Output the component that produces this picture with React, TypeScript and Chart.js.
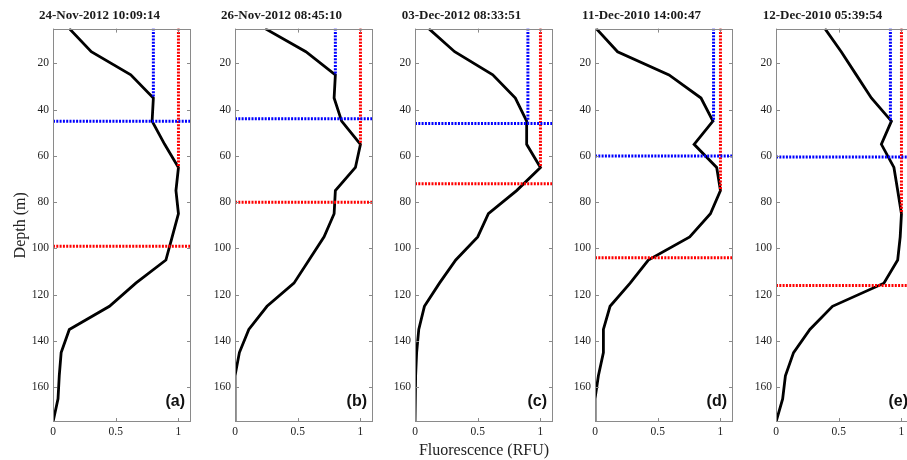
import React, { useEffect, useRef } from 'react';
import { Chart, registerables } from 'chart.js';

Chart.register(...registerables);

// ---- data ----
const depths = [5, 15, 25, 35, 45, 55, 65, 75, 85, 95, 105, 115, 125, 135, 145, 155, 165, 175];
const fluorA = [0.13, 0.305, 0.62, 0.8, 0.79, 0.89, 1.0, 0.98, 1.0, 0.95, 0.9, 0.66, 0.45, 0.13, 0.065, 0.05, 0.04, 0];
const fluorB = [0.24, 0.565, 0.8, 0.79, 0.85, 1.0, 0.96, 0.8, 0.79, 0.71, 0.59, 0.47, 0.255, 0.11, 0.035, 0, 0, 0];
const fluorC = [0.11, 0.316, 0.62, 0.8, 0.89, 0.89, 1.0, 0.81, 0.585, 0.5, 0.325, 0.195, 0.075, 0.03, 0.013, 0.005, 0, 0];
const fluorD = [0.01, 0.18, 0.59, 0.845, 0.94, 0.79, 0.97, 1.0, 0.92, 0.755, 0.425, 0.28, 0.12, 0.067, 0.067, 0.027, 0, 0];
const fluorE = [0.39, 0.52, 0.64, 0.76, 0.92, 0.84, 0.94, 0.97, 1.0, 0.99, 0.97, 0.86, 0.45, 0.27, 0.14, 0.075, 0.053, 0];
const profiles = [fluorA, fluorB, fluorC, fluorD, fluorE];

const titles = [
  '24-Nov-2012 10:09:14',
  '26-Nov-2012 08:45:10',
  '03-Dec-2012 08:33:51',
  '11-Dec-2010 14:00:47',
  '12-Dec-2010 05:39:54',
];
const panelLabels = ['(a)', '(b)', '(c)', '(d)', '(e)'];

// dotted reference lines
const blueX = [0.8, 0.8, 0.9, 0.945, 0.912];
const blueEnd = [35, 25, 45, 45, 45];
const blueDepth = [45, 44, 46, 60, 60.5];
const redX = [1, 1, 1, 1, 1];
const redEnd = [65, 55, 65, 75, 85];
const redDepth = [99, 80, 72, 104, 116];

const xTicks = [0, 0.5, 1];
const yTicks = [20, 40, 60, 80, 100, 120, 140, 160];
const X_MIN = 0;
const X_MAX = 1.1;
const Y_MIN = 5;
const Y_MAX = 175;

// ---- layout ----
const panelLefts = [53, 235, 415, 595, 776];
const AXIS_W = 45;
const PLOT_W = 138;
const CANVAS_W = AXIS_W + PLOT_W + AXIS_W;
const CANVAS_H = 460;
const SERIF = '"Liberation Serif", "Times New Roman", serif';
const SANS = '"Liberation Sans", Arial, sans-serif';

const boxPlugin = {
  id: 'panelBox',
  afterDraw(chart: any, _args: any, opts: any) {
    const { ctx, chartArea: a, scales } = chart;
    ctx.save();
    ctx.strokeStyle = '#8a8a8a';
    ctx.lineWidth = 1;
    ctx.strokeRect(Math.round(a.left) + 0.5, Math.round(a.top) + 0.5, Math.round(a.width) - 1, Math.round(a.height) - 1);
    const L = 4;
    ctx.beginPath();
    for (const v of yTicks) {
      const py = Math.round(scales.y.getPixelForValue(v)) + 0.5;
      ctx.moveTo(a.left, py);
      ctx.lineTo(a.left + L, py);
      ctx.moveTo(a.right, py);
      ctx.lineTo(a.right - L, py);
    }
    for (const v of xTicks) {
      const px = Math.round(scales.x.getPixelForValue(v)) + 0.5;
      ctx.moveTo(px, a.bottom);
      ctx.lineTo(px, a.bottom - L);
      ctx.moveTo(px, a.top);
      ctx.lineTo(px, a.top + L);
    }
    ctx.stroke();
    ctx.fillStyle = '#111';
    ctx.font = `bold 16px ${SANS}`;
    ctx.textAlign = 'right';
    ctx.textBaseline = 'middle';
    ctx.fillText(opts.label, a.right - 6, a.bottom - 20);
    ctx.restore();
  },
};

function Panel({ idx }: { idx: number }) {
  const ref = useRef<HTMLCanvasElement>(null);
  useEffect(() => {
    const prof = profiles[idx];
    const dotted = { borderWidth: 3, borderDash: [2, 1.3], pointRadius: 0, fill: false, tension: 0 };
    const tickFont = { family: SERIF, size: 11.5 };
    const chart = new Chart(ref.current as HTMLCanvasElement, {
      type: 'line',
      data: {
        datasets: [
          { ...dotted, borderColor: '#0000ff', data: [{ x: blueX[idx], y: Y_MIN }, { x: blueX[idx], y: blueEnd[idx] }] },
          { ...dotted, borderColor: '#0000ff', data: [{ x: X_MIN, y: blueDepth[idx] }, { x: X_MAX, y: blueDepth[idx] }] },
          { ...dotted, borderColor: '#ff0000', data: [{ x: redX[idx], y: Y_MIN }, { x: redX[idx], y: redEnd[idx] }] },
          { ...dotted, borderColor: '#ff0000', data: [{ x: X_MIN, y: redDepth[idx] }, { x: X_MAX, y: redDepth[idx] }] },
          {
            borderColor: '#000000',
            borderWidth: 2.8,
            pointRadius: 0,
            fill: false,
            tension: 0,
            data: depths.map((d, i) => ({ x: prof[i], y: d })),
          },
        ] as any,
      },
      options: {
        animation: false,
        responsive: false,
        events: [],
        layout: { padding: { left: 0, right: AXIS_W, top: 0, bottom: 0 } },
        plugins: {
          legend: { display: false },
          tooltip: { enabled: false },
          title: {
            display: true,
            text: titles[idx],
            color: '#1a1a1a',
            font: { family: SERIF, size: 13, weight: 'bold' },
            padding: { top: 8, bottom: 5 },
          },
          panelBox: { label: panelLabels[idx] },
        } as any,
        scales: {
          x: {
            type: 'linear',
            min: X_MIN,
            max: X_MAX,
            grid: { display: false, drawTicks: false },
            border: { display: false },
            ticks: {
              font: tickFont,
              color: '#222',
              padding: 3,
              includeBounds: false,
              autoSkip: false,
              maxRotation: 0,
              callback: (v: any) => String(v),
            },
            title: idx === 2
              ? { display: true, text: 'Fluorescence (RFU)', color: '#222', font: { family: SERIF, size: 16 }, padding: { top: 0, bottom: 0 } }
              : { display: false },
            afterBuildTicks: (s: any) => { s.ticks = xTicks.map((v) => ({ value: v })); },
            afterFit: (s: any) => { s.height = 38; },
          },
          y: {
            type: 'linear',
            reverse: true,
            min: Y_MIN,
            max: Y_MAX,
            grid: { display: false, drawTicks: false },
            border: { display: false },
            ticks: {
              font: tickFont,
              color: '#222',
              padding: 4,
              includeBounds: false,
              autoSkip: false,
              callback: (v: any) => String(v),
            },
            title: idx === 0
              ? { display: true, text: 'Depth (m)', color: '#222', font: { family: SERIF, size: 16 }, padding: { top: 3, bottom: 0 } }
              : { display: false },
            afterBuildTicks: (s: any) => { s.ticks = yTicks.map((v) => ({ value: v })); },
            afterFit: (s: any) => { s.width = AXIS_W; },
          },
        } as any,
      },
      plugins: [boxPlugin],
    });
    return () => chart.destroy();
  }, [idx]);
  return (
    <canvas
      ref={ref}
      width={CANVAS_W}
      height={CANVAS_H}
      style={{
        position: 'absolute',
        left: panelLefts[idx] - AXIS_W,
        top: 0,
        width: CANVAS_W,
        height: CANVAS_H,
      }}
    />
  );
}

export default function App() {
  return (
    <div
      style={{
        position: 'absolute',
        left: 0,
        top: 0,
        width: 907,
        height: 460,
        overflow: 'hidden',
        background: '#ffffff',
      }}
    >
      {profiles.map((_, i) => (
        <Panel key={i} idx={i} />
      ))}
    </div>
  );
}
